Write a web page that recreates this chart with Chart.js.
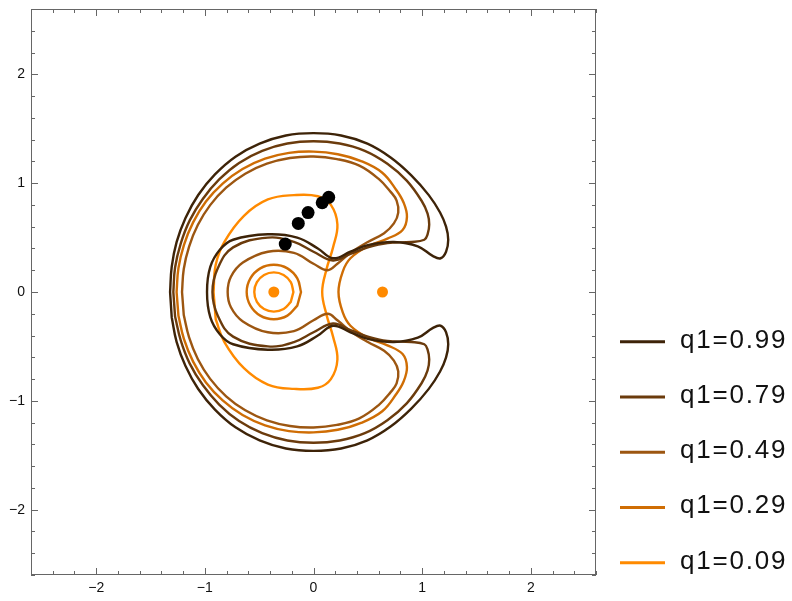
<!DOCTYPE html>
<html>
<head>
<meta charset="utf-8">
<script src="https://cdn.jsdelivr.net/npm/chart.js@4"></script>
<style>
  body { margin: 0; background: #fff; }
</style>
</head>
<body>
<canvas id="chart" width="792" height="601"></canvas>
<script>
// contour levels (legend)
const levelLabels = ["q1=0.99", "q1=0.79", "q1=0.49", "q1=0.29", "q1=0.09"];
const levelColors = ["#3d2308", "#6b3b0c", "#9c5611", "#cf6d04", "#ff8a00"];

// all curves are closed loops (first point is not repeated)

// q1=0.99 : outer C + inner boundary around left primary
const curve099 = [
    [-1.32, 0.00], [-1.305, 0.231], [-1.26, 0.458], [-1.178, 0.68], [-1.061, 0.891], [-0.907, 1.08],
    [-0.718, 1.243], [-0.496, 1.363], [-0.254, 1.438], [0.00, 1.46], [0.254, 1.438], [0.496, 1.363],
    [0.713, 1.234], [0.90, 1.072], [1.061, 0.89], [1.165, 0.73], [1.22, 0.60], [1.24, 0.48], [1.22, 0.37],
    [1.17, 0.31], [1.10, 0.33], [0.96, 0.42], [0.74, 0.46], [0.50, 0.43], [0.34, 0.37], [0.18, 0.31],
    [0.04, 0.40], [-0.15, 0.50], [-0.42, 0.53], [-0.74, 0.48], [-0.86, 0.39], [-0.95, 0.23], [-0.98, 0.00],
    [-0.95, -0.23], [-0.86, -0.39], [-0.74, -0.48], [-0.42, -0.53], [-0.15, -0.50], [0.04, -0.40],
    [0.18, -0.31], [0.34, -0.37], [0.50, -0.43], [0.74, -0.46], [0.96, -0.42], [1.10, -0.33], [1.17, -0.31],
    [1.22, -0.37], [1.24, -0.48], [1.22, -0.60], [1.165, -0.73], [1.061, -0.89], [0.90, -1.072],
    [0.713, -1.234], [0.496, -1.363], [0.254, -1.438], [0.00, -1.46], [-0.254, -1.438], [-0.496, -1.363],
    [-0.718, -1.243], [-0.907, -1.08], [-1.061, -0.891], [-1.178, -0.68], [-1.26, -0.458], [-1.305, -0.231]
];

// q1=0.79
const curve079 = [
    [-1.29, 0.00], [-1.274, 0.225], [-1.222, 0.445], [-1.139, 0.658], [-1.019, 0.855], [-0.868, 1.034],
    [-0.685, 1.186], [-0.472, 1.297], [-0.241, 1.364], [0.00, 1.385], [0.241, 1.364], [0.472, 1.297],
    [0.68, 1.178], [0.858, 1.023], [0.996, 0.836], [1.05, 0.72], [1.065, 0.62], [1.05, 0.53], [1.02, 0.48],
    [0.90, 0.46], [0.68, 0.45], [0.50, 0.41], [0.34, 0.35], [0.18, 0.29], [0.00, 0.37], [-0.18, 0.46],
    [-0.42, 0.50], [-0.74, 0.41], [-0.88, 0.22], [-0.93, 0.00], [-0.88, -0.22], [-0.74, -0.41],
    [-0.42, -0.50], [-0.18, -0.46], [0.00, -0.37], [0.18, -0.29], [0.34, -0.35], [0.50, -0.41],
    [0.68, -0.45], [0.90, -0.46], [1.02, -0.48], [1.05, -0.53], [1.065, -0.62], [1.05, -0.72],
    [0.996, -0.836], [0.858, -1.023], [0.68, -1.178], [0.472, -1.297], [0.241, -1.364], [0.00, -1.385],
    [-0.241, -1.364], [-0.472, -1.297], [-0.685, -1.186], [-0.868, -1.034], [-1.019, -0.855],
    [-1.139, -0.658], [-1.222, -0.445], [-1.274, -0.225]
];

// q1=0.49
const curve049 = [
    [-1.21, 0.00], [-1.194, 0.211], [-1.145, 0.417], [-1.065, 0.615], [-0.951, 0.798], [-0.804, 0.958],
    [-0.628, 1.087], [-0.429, 1.179], [-0.217, 1.231], [0.00, 1.245], [0.216, 1.221], [0.422, 1.161],
    [0.60, 1.039], [0.71, 0.92], [0.765, 0.84], [0.78, 0.73], [0.74, 0.63], [0.65, 0.54], [0.50, 0.46],
    [0.34, 0.36], [0.22, 0.26], [0.13, 0.20], [0.00, 0.26], [-0.18, 0.36], [-0.42, 0.37], [-0.65, 0.27],
    [-0.76, 0.14], [-0.79, 0.00], [-0.76, -0.14], [-0.65, -0.27], [-0.42, -0.37], [-0.18, -0.36],
    [0.00, -0.26], [0.13, -0.20], [0.22, -0.26], [0.34, -0.36], [0.50, -0.46], [0.65, -0.54], [0.74, -0.63],
    [0.78, -0.73], [0.765, -0.84], [0.71, -0.92], [0.60, -1.039], [0.422, -1.161], [0.216, -1.221],
    [0.00, -1.245], [-0.217, -1.231], [-0.429, -1.179], [-0.628, -1.087], [-0.804, -0.958], [-0.951, -0.798],
    [-1.065, -0.615], [-1.145, -0.417], [-1.194, -0.211]
];

// q1=0.29 : outer C wrapping round the right primary, plus ring round the left primary
const curve029 = [
    [-1.26, 0.00], [-1.243, 0.219], [-1.192, 0.434], [-1.108, 0.64], [-0.99, 0.831], [-0.836, 0.996],
    [-0.653, 1.13], [-0.446, 1.225], [-0.225, 1.278], [0.00, 1.29], [0.223, 1.266], [0.438, 1.203],
    [0.633, 1.096], [0.76, 0.94], [0.83, 0.82], [0.86, 0.69], [0.82, 0.57], [0.68, 0.49], [0.50, 0.42],
    [0.34, 0.31], [0.27, 0.19], [0.23, 0.00], [0.27, -0.19], [0.34, -0.31], [0.50, -0.42], [0.68, -0.49],
    [0.82, -0.57], [0.86, -0.69], [0.83, -0.82], [0.76, -0.94], [0.633, -1.096], [0.438, -1.203],
    [0.223, -1.266], [0.00, -1.29], [-0.225, -1.278], [-0.446, -1.225], [-0.653, -1.13], [-0.836, -0.996],
    [-0.99, -0.831], [-1.108, -0.64], [-1.192, -0.434], [-1.243, -0.219]
];
const ring029 = [
    [-0.115, 0.00], [-0.149, 0.125], [-0.24, 0.217], [-0.365, 0.25], [-0.49, 0.217], [-0.581, 0.125],
    [-0.615, 0.00], [-0.581, -0.125], [-0.49, -0.217], [-0.365, -0.25], [-0.24, -0.217], [-0.149, -0.125]
];

// q1=0.09
const loop009 = [
    [-0.92, 0.00], [-0.90, 0.25], [-0.82, 0.46], [-0.64, 0.70], [-0.42, 0.85], [-0.18, 0.89], [0.04, 0.88],
    [0.16, 0.80], [0.22, 0.62], [0.18, 0.41], [0.12, 0.21], [0.08, 0.00], [0.12, -0.21], [0.18, -0.41],
    [0.22, -0.62], [0.16, -0.80], [0.04, -0.88], [-0.18, -0.89], [-0.42, -0.85], [-0.64, -0.70],
    [-0.82, -0.46], [-0.90, -0.25]
];
const ring009 = [
    [-0.185, 0.00], [-0.209, 0.09], [-0.275, 0.156], [-0.365, 0.18], [-0.455, 0.156], [-0.521, 0.09],
    [-0.545, 0.00], [-0.521, -0.09], [-0.455, -0.156], [-0.365, -0.18], [-0.275, -0.156], [-0.209, -0.09]
];

// primaries and black points
const primaries = [[-0.365, 0], [0.635, 0]];
const blackDots = [[-0.26, 0.44], [-0.14, 0.63], [-0.05, 0.73], [0.08, 0.82], [0.14, 0.87]];

const curvesByLevel = [
    [curve099],
    [curve079],
    [curve049],
    [curve029, ring029],
    [loop009, ring009]
];

const toXY = arr => arr.map(p => ({ x: p[0], y: p[1] }));

const datasets = [
    {
        label: "points",
        data: toXY(blackDots),
        pointRadius: 6.5,
        pointBackgroundColor: "#000",
        pointBorderWidth: 0,
        showLine: false
    },
    {
        label: "primaries",
        data: toXY(primaries),
        pointRadius: 5.5,
        pointBackgroundColor: "#ff8a00",
        pointBorderWidth: 0,
        showLine: false
    }
];
curvesByLevel.forEach((pieces, i) => {
    pieces.forEach(piece => {
        datasets.push({
            label: levelLabels[i],
            data: toXY(piece),
            borderColor: levelColors[i],
            borderWidth: 2.4,
            pointRadius: 0,
            showLine: true,
            tension: 0.4,
            fill: false,
            closed: true
        });
    });
});

const fmt = v => {
    const r = Math.round(v);
    if (Math.abs(v - r) > 1e-6) return "";
    return r < 0 ? "\u2212" + Math.abs(r) : String(r);
};
const isMajor = v => Math.abs(v - Math.round(v)) < 1e-6;

// let the line element join its last point back to the first one smoothly
const closedLoops = {
    id: "closedLoops",
    beforeDatasetDraw(chart, args) {
        const ds = chart.data.datasets[args.index];
        const line = args.meta.dataset;
        if (ds.closed && line) {
            line._loop = true;
            line._fullLoop = true;
            line._pointsUpdated = false;
            delete line._segments;
            delete line._path;
        }
    }
};

// frame with inward ticks on all sides
const framePlugin = {
    id: "frame",
    afterDraw(chart) {
        const { ctx, chartArea: a, scales: { x, y } } = chart;
        ctx.save();
        ctx.strokeStyle = "#666";
        ctx.lineWidth = 1;
        ctx.strokeRect(a.left + 0.5, a.top + 0.5, a.right - a.left - 1, a.bottom - a.top - 1);
        ctx.beginPath();
        x.ticks.forEach(t => {
            const px = Math.round(x.getPixelForValue(t.value)) + 0.5;
            const len = isMajor(t.value) ? 7 : 4;
            ctx.moveTo(px, a.bottom); ctx.lineTo(px, a.bottom - len);
            ctx.moveTo(px, a.top); ctx.lineTo(px, a.top + len);
        });
        y.ticks.forEach(t => {
            const py = Math.round(y.getPixelForValue(t.value)) + 0.5;
            const len = isMajor(t.value) ? 7 : 4;
            ctx.moveTo(a.left, py); ctx.lineTo(a.left + len, py);
            ctx.moveTo(a.right, py); ctx.lineTo(a.right - len, py);
        });
        ctx.stroke();
        ctx.restore();
    }
};

// legend at the lower right
const legendPlugin = {
    id: "sideLegend",
    afterDraw(chart) {
        const ctx = chart.ctx;
        ctx.save();
        ctx.font = '26px "Liberation Sans", Arial, sans-serif';
        ctx.letterSpacing = "1.8px";
        ctx.fillStyle = "#111";
        ctx.textBaseline = "alphabetic";
        levelLabels.forEach((lab, i) => {
            const yy = 341.7 + i * 55.25;
            ctx.strokeStyle = levelColors[i];
            ctx.lineWidth = 3;
            ctx.beginPath();
            ctx.moveTo(620, yy);
            ctx.lineTo(665, yy);
            ctx.stroke();
            ctx.fillText(lab, 680, yy + 6);
        });
        ctx.restore();
    }
};

const tickFont = { family: '"Liberation Sans", Arial, sans-serif', size: 14 };

new Chart(document.getElementById("chart"), {
    type: "scatter",
    data: { datasets },
    options: {
        responsive: false,
        devicePixelRatio: 1,
        animation: false,
        layout: { padding: { left: 0, top: 9, right: 196, bottom: 0 } },
        plugins: { legend: { display: false }, tooltip: { enabled: false } },
        scales: {
            x: {
                type: "linear", min: -2.6, max: 2.6,
                grid: { display: false, drawTicks: false }, border: { display: false },
                ticks: { stepSize: 0.2, autoSkip: false, maxRotation: 0, padding: 5, color: "#111", font: tickFont, callback: fmt },
                afterFit: s => { s.height = 26; s.paddingLeft = 0; s.paddingRight = 0; }
            },
            y: {
                type: "linear", min: -2.6, max: 2.6,
                grid: { display: false, drawTicks: false }, border: { display: false },
                ticks: { stepSize: 0.2, autoSkip: false, padding: 6, color: "#111", font: tickFont, callback: fmt },
                afterFit: s => { s.width = 31; s.paddingTop = 0; s.paddingBottom = 0; }
            }
        }
    },
    plugins: [closedLoops, framePlugin, legendPlugin]
});
</script>
</body>
</html>
